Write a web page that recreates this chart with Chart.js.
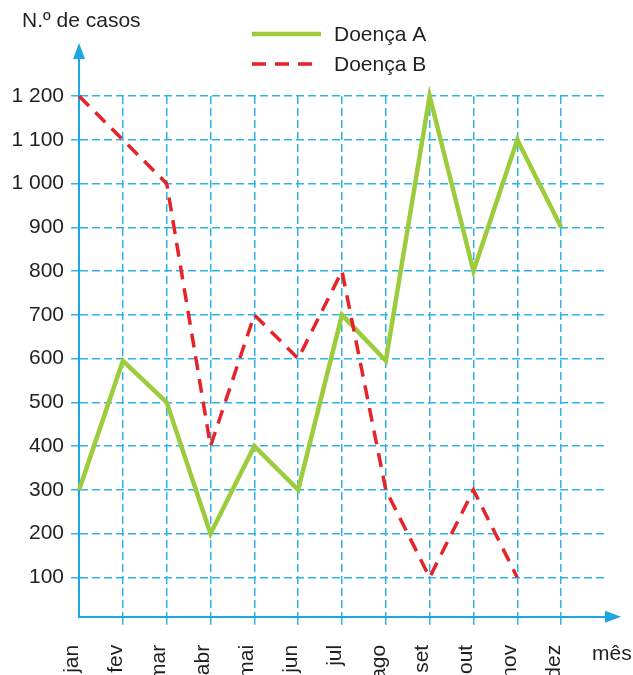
<!DOCTYPE html>
<html>
<head>
<meta charset="utf-8">
<script src="https://cdn.jsdelivr.net/npm/chart.js@4"></script>
<style>
  html, body { margin: 0; padding: 0; background: #ffffff; overflow: hidden; }
  #wrap { width: 633px; height: 720px; }
</style>
</head>
<body>
<div id="wrap"><canvas id="c" width="633" height="720"></canvas></div>
<script>
// ---- data ----
const months = ['jan', 'fev', 'mar', 'abr', 'mai', 'jun', 'jul', 'ago', 'set', 'out', 'nov', 'dez'];
const doencaA = [300, 595, 500, 200, 400, 300, 700, 595, 1200, 800, 1100, 900];
const doencaB = [1200, 1100, 1000, 400, 700, 600, 800, 300, 100, 300, 100, null];
const yTickValues = [100, 200, 300, 400, 500, 600, 700, 800, 900, 1000, 1100, 1200];
const seriesNames = ['Doença A', 'Doença B'];
const yTitle = 'N.º de casos';
const xTitle = 'mês';

// ---- styles ----
const GREEN = '#9ccb3b';
const RED = '#e52329';
const GRID = '#2cb4e8';
const AXIS = '#1ca6e2';
const TEXT = '#231f20';
const FONT = '"Liberation Sans", Arial, Helvetica, sans-serif';

function fmt(v) {
  return String(v).replace(/\B(?=(\d{3})+(?!\d))/g, ' ');
}
function toPoints(arr) {
  const out = [];
  arr.forEach((v, i) => { if (v !== null) out.push({ x: i, y: v }); });
  return out;
}

const decor = {
  id: 'decor',
  afterDraw(chart) {
    const ctx = chart.ctx;
    const ca = chart.chartArea;
    ctx.save();
    // axis extensions + arrows
    ctx.strokeStyle = AXIS;
    ctx.fillStyle = AXIS;
    ctx.lineWidth = 2;
    ctx.setLineDash([]);
    ctx.beginPath();
    ctx.moveTo(ca.left, ca.top);
    ctx.lineTo(ca.left, 56);
    ctx.moveTo(ca.right, ca.bottom);
    ctx.lineTo(608, ca.bottom);
    ctx.stroke();
    ctx.beginPath();
    ctx.moveTo(ca.left, 43);
    ctx.lineTo(ca.left - 6, 59);
    ctx.lineTo(ca.left + 6, 59);
    ctx.closePath();
    ctx.fill();
    ctx.beginPath();
    ctx.moveTo(621, ca.bottom);
    ctx.lineTo(605, ca.bottom - 6);
    ctx.lineTo(605, ca.bottom + 6);
    ctx.closePath();
    ctx.fill();

    // titles
    ctx.fillStyle = TEXT;
    ctx.font = '21px ' + FONT;
    ctx.textBaseline = 'alphabetic';
    ctx.textAlign = 'left';
    ctx.fillText(yTitle, 22, 27);
    ctx.fillText(xTitle, 592, 660);

    // legend
    const ys = [34, 64];
    chart.data.datasets.forEach((ds, i) => {
      ctx.strokeStyle = ds.borderColor;
      ctx.lineWidth = ds.borderWidth;
      ctx.setLineDash(ds.borderDash || []);
      ctx.beginPath();
      ctx.moveTo(252, ys[i]);
      ctx.lineTo(321, ys[i]);
      ctx.stroke();
      ctx.setLineDash([]);
      ctx.fillStyle = TEXT;
      ctx.textBaseline = 'middle';
      ctx.fillText(ds.label, 334, ys[i] + 1);
    });
    ctx.restore();
  }
};

new Chart(document.getElementById('c'), {
  type: 'line',
  data: {
    datasets: [
      {
        label: seriesNames[0],
        data: toPoints(doencaA),
        borderColor: GREEN,
        backgroundColor: GREEN,
        borderWidth: 4.5,
        pointRadius: 0,
        tension: 0,
        borderJoinStyle: 'miter',
        clip: 10,
        order: 1
      },
      {
        label: seriesNames[1],
        data: toPoints(doencaB),
        borderColor: RED,
        backgroundColor: RED,
        borderWidth: 3.5,
        borderDash: [14, 9],
        pointRadius: 0,
        tension: 0,
        borderJoinStyle: 'miter',
        clip: 10,
        order: 0
      }
    ]
  },
  options: {
    responsive: false,
    animation: false,
    devicePixelRatio: 1,
    layout: { padding: { top: 96, left: 4.5, right: 25, bottom: 19 } },
    plugins: {
      legend: { display: false },
      tooltip: { enabled: false },
      title: { display: false }
    },
    scales: {
      x: {
        type: 'linear',
        min: 0,
        max: 12.07,
        afterBuildTicks(axis) {
          axis.ticks = months.map((m, i) => ({ value: i }));
        },
        ticks: {
          autoSkip: false,
          minRotation: 90,
          maxRotation: 90,
          padding: 20,
          labelOffset: -7,
          color: TEXT,
          font: { size: 21, family: FONT },
          callback: (v) => months[v]
        },
        grid: {
          color: (c) => (c.index === 0 ? 'rgba(0,0,0,0)' : GRID),
          lineWidth: 1.5,
          tickLength: 8,
          tickColor: (c) => (c.index === 0 ? 'rgba(0,0,0,0)' : GRID),
          tickWidth: 1.5,
          tickBorderDash: []
        },
        border: { display: true, color: AXIS, width: 2, dash: [8, 4] }
      },
      y: {
        type: 'linear',
        min: 10,
        max: 1200,
        afterBuildTicks(axis) {
          axis.ticks = yTickValues.map((v) => ({ value: v }));
        },
        ticks: {
          padding: 7,
          color: TEXT,
          font: { size: 21, family: FONT },
          callback: (v) => fmt(v)
        },
        grid: {
          color: GRID,
          lineWidth: 1.5,
          tickLength: 8,
          tickColor: GRID,
          tickWidth: 1.5,
          tickBorderDash: [8, 4]
        },
        border: { display: true, color: AXIS, width: 2, dash: [8, 4] }
      }
    }
  },
  plugins: [decor]
});
</script>
</body>
</html>
